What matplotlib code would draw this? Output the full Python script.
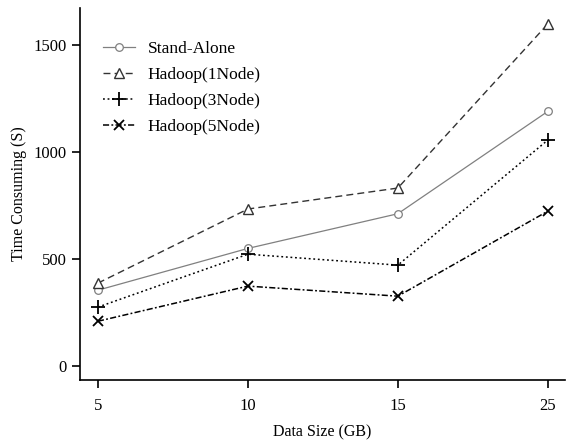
import numpy as np
import matplotlib
matplotlib.use("Agg")
import matplotlib.pyplot as plt

sizes = ["5", "10", "15", "25"]
stand_alone = [355, 550, 712, 1190]
hadoop_1 = [388, 734, 832, 1598]
hadoop_3 = [276, 523, 472, 1056]
hadoop_5 = [210, 374, 327, 724]

plt.rcParams['font.family'] = ['Liberation Serif', 'DejaVu Serif']

fig = plt.figure(figsize=(5.67, 4.42), dpi=100)
ax = fig.add_axes([0.141, 0.14, 0.855, 0.842])

x = np.arange(len(sizes))
ax.plot(x, stand_alone, color='#808080', lw=0.9, ls='-', marker='o', ms=5.5,
        mfc='white', mec='#808080', mew=0.9, label='Stand-Alone')
ax.plot(x, hadoop_1, color='#333333', lw=1.0, ls=(0, (5, 3)), marker='^', ms=7.5,
        mfc='white', mec='#333333', mew=1.0, label='Hadoop(1Node)')
ax.plot(x, hadoop_3, color='black', lw=1.1, ls=(0, (1.2, 1.8)), marker='+', ms=10,
        mew=1.3, label='Hadoop(3Node)')
ax.plot(x, hadoop_5, color='black', lw=1.1, ls=(0, (4, 1.5, 1.2, 1.5)), marker='x', ms=7,
        mew=1.3, label='Hadoop(5Node)')

ax.set_xticks(x)
ax.set_xticklabels(sizes)
ax.set_xlim(-0.12, 3.113)
ax.set_ylim(-65, 1673)
ax.set_yticks([0, 500, 1000, 1500])
for s in ['top', 'right']:
    ax.spines[s].set_visible(False)
for s in ['left', 'bottom']:
    ax.spines[s].set_linewidth(1.2)
ax.tick_params(direction='out', length=6, width=1.2, labelsize=12)
ax.tick_params(axis='x', pad=7)

ax.set_xlabel('Data Size (GB)', fontsize=11.5, labelpad=7)
ax.set_ylabel('Time Consuming (S)', fontsize=11.5, labelpad=5)

ax.legend(loc='upper left', bbox_to_anchor=(0.047, 0.911), frameon=False,
          fontsize=12.5, handlelength=1.85, handletextpad=0.75,
          labelspacing=0.56, borderpad=0, borderaxespad=0)

fig.savefig('out.png', dpi=100)
